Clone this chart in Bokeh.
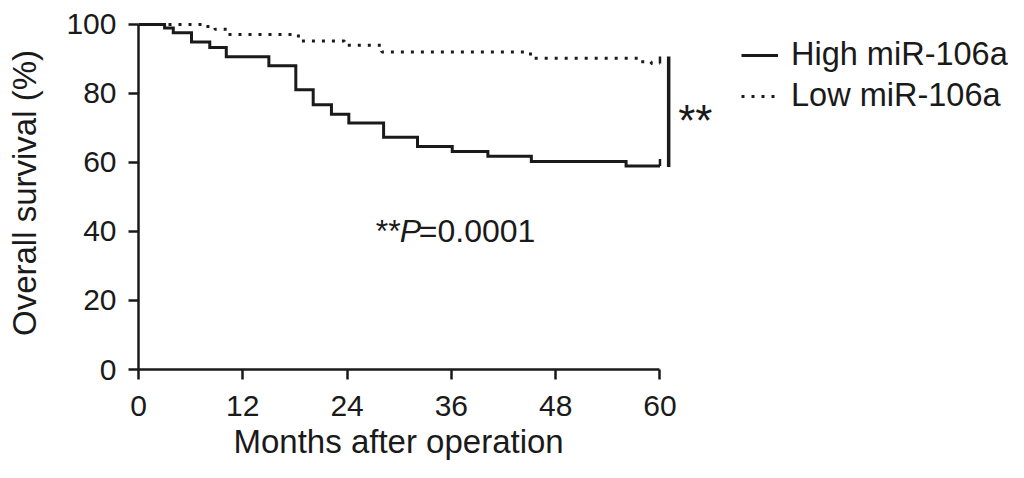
from bokeh.plotting import figure
from bokeh.models import Range1d, FixedTicker, Legend, LegendItem, Label, Title
from bokeh.embed import file_html
from bokeh.resources import INLINE

# Kaplan-Meier step points (months, overall survival %)
high_t = [0, 3.0, 4.0, 6.1, 8.2, 10.1, 15.0, 18.1, 20.1, 22.2, 24.2, 28.2, 32.1, 36.1, 40.2, 45.2, 56.1, 60]
high_s = [100, 99.0, 97.6, 94.9, 93.3, 90.6, 88.0, 81.1, 76.7, 74.0, 71.4, 67.3, 64.6, 63.2, 61.8, 60.3, 59.0, 59.0]

low_t = [0, 7.4, 8.8, 10.3, 18.4, 23.7, 28.0, 45.1, 57.8, 59.0, 60]
low_s = [100, 99.4, 98.6, 97.1, 95.2, 94.0, 92.0, 90.2, 89.2, 88.7, 88.7]

series_names = ["High miR-106a", "Low miR-106a"]
x_ticks = [0, 12, 24, 36, 48, 60]
y_ticks = [0, 20, 40, 60, 80, 100]
x_title = "Months after operation"
y_title = "Overall survival (%)"
p_value_text = "=0.0001"
censor_height = 2.0

INK = "#1a1a1a"
FONT = "Liberation Sans"

p = figure(width=1008, height=462, output_backend="svg", toolbar_location=None,
           x_range=Range1d(0, 100.1), y_range=Range1d(0, 102.3),
           min_border_left=138, min_border_right=0, min_border_top=16, min_border_bottom=92)
p.outline_line_color = None
p.grid.visible = False
p.background_fill_color = "white"

for ax in (p.xaxis[0], p.yaxis[0]):
    ax.axis_line_width = 2.5
    ax.axis_line_color = INK
    ax.major_tick_line_width = 2.5
    ax.major_tick_line_color = INK
    ax.major_tick_out = 10
    ax.major_tick_in = 0
    ax.minor_tick_line_color = None
    ax.major_label_text_font = FONT
    ax.major_label_text_font_size = "30px"
    ax.major_label_text_color = INK
    ax.axis_label_text_font = FONT
    ax.axis_label_text_font_size = "33px"
    ax.axis_label_text_font_style = "normal"
    ax.axis_label_text_color = INK

p.xaxis.bounds = (0, 60)
p.yaxis.bounds = (0, 100)
p.xaxis.ticker = FixedTicker(ticks=x_ticks)
p.yaxis.ticker = FixedTicker(ticks=y_ticks)
p.xaxis.major_label_standoff = 16
p.yaxis.major_label_standoff = 12
p.yaxis.axis_label = y_title
p.yaxis.axis_label_standoff = 20

# x-axis title placed under the 0-60 axis span
p.add_layout(Title(text=x_title, align="left", offset=95, standoff=5,
                   text_font=FONT, text_font_size="33px", text_font_style="normal",
                   text_color=INK), "below")

r_high = p.step(high_t, high_s, mode="after", line_width=3, line_color=INK, line_join="miter")
r_low = p.step(low_t, low_s, mode="after", line_width=3, line_color=INK, line_dash="3 7")

# censor ticks at end of follow-up
p.segment(x0=[high_t[-1]], y0=[high_s[-1]], x1=[high_t[-1]], y1=[high_s[-1] + censor_height],
          line_width=2.5, line_color=INK)
p.segment(x0=[low_t[-1]], y0=[low_s[-1]], x1=[low_t[-1]], y1=[low_s[-1] + censor_height],
          line_width=2.5, line_color=INK)

# significance bracket
bx = 61.0
p.segment(x0=[bx], y0=[high_s[-1] - 0.3], x1=[bx], y1=[low_s[-1] + censor_height],
          line_width=3.5, line_color=INK)
p.add_layout(Label(x=62.1, y=72.2, text="**", text_font=FONT, text_font_size="44px",
                   text_color=INK, text_baseline="middle"))

# P value text
px, py = 27.3, 40.0
p.add_layout(Label(x=px, y=py, text="**", text_font=FONT, text_font_size="32px",
                   text_color=INK, text_baseline="middle"))
p.add_layout(Label(x=px, y=py, x_offset=24, text="P", text_font=FONT, text_font_size="32px",
                   text_font_style="italic", text_color=INK, text_baseline="middle"))
p.add_layout(Label(x=px, y=py, x_offset=43, text=p_value_text, text_font=FONT, text_font_size="32px",
                   text_color=INK, text_baseline="middle"))

legend = Legend(items=[LegendItem(label=series_names[0], renderers=[r_high]),
                       LegendItem(label=series_names[1], renderers=[r_low])],
                location=(603, 255), padding=0, margin=0, spacing=4,
                glyph_width=37, glyph_height=30, label_standoff=13,
                label_text_font=FONT, label_text_font_size="32.5px", label_text_color=INK,
                background_fill_alpha=0, border_line_color=None)
p.add_layout(legend)

open("out.html", "w").write(file_html(p, INLINE))
